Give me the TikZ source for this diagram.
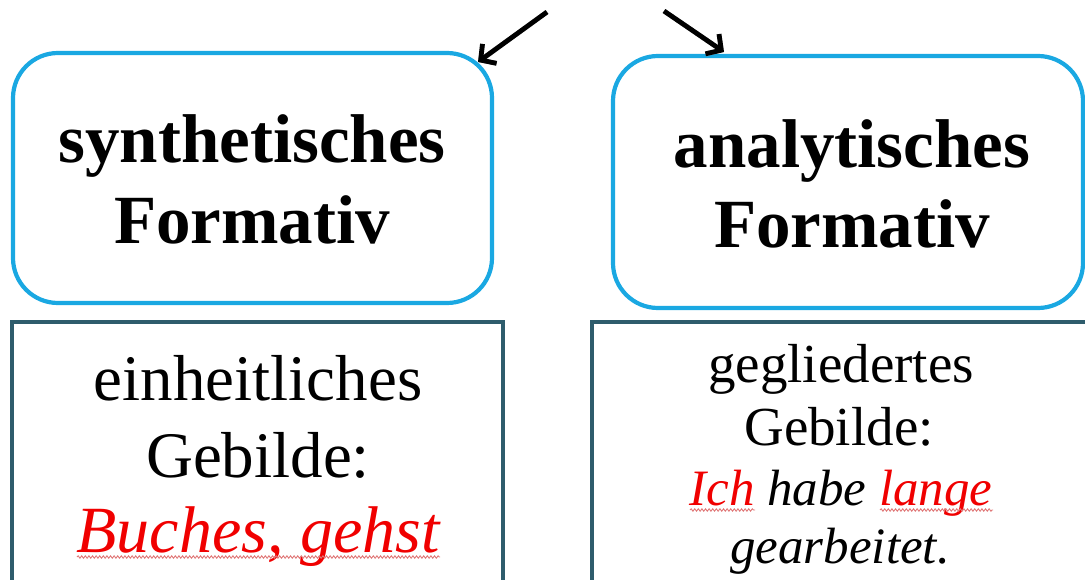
\documentclass[tikz,border=0pt]{standalone}
\usepackage{fontspec}
\setmainfont{Liberation Serif}
\usetikzlibrary{arrows.meta,decorations.pathmorphing}
\definecolor{boxblue}{HTML}{1AA8E2}
\definecolor{boxteal}{HTML}{2E5C6C}
\definecolor{txtred}{HTML}{F00000}
\definecolor{wavered}{HTML}{E07878}
\tikzset{
  headbox/.style={draw=boxblue, line width=4.2pt, rounded corners=45pt, inner sep=0pt},
  bodybox/.style={draw=boxteal, line width=3.6pt, inner sep=0pt},
  headtxt/.style={anchor=base, inner sep=0pt, font=\fontsize{69}{69}\selectfont\bfseries},
  bigtxt/.style={anchor=base, inner sep=0pt, font=\fontsize{65}{65}\selectfont},
  midtxt/.style={anchor=base, inner sep=0pt, font=\fontsize{55}{55}\selectfont},
  ittxt/.style={anchor=base, inner sep=0pt, font=\fontsize{51}{51}\selectfont\itshape},
  pointer/.style={draw=black, line width=4.8pt, -{Straight Barb[length=11pt,width=24pt]}},
  pshadow/.style={draw=black!30, line width=4.8pt, -{Straight Barb[length=11pt,width=24pt]}},
  spell/.style={draw=wavered, line width=0.9pt, decorate, decoration={snake, amplitude=1.2pt, segment length=3.6pt}}
}
\begin{document}
\begin{tikzpicture}[x=1pt,y=-1pt]
\useasboundingbox (0,0) rectangle (1085,580);
\clip (0,0) rectangle (1085,580);
% boxes
\node[headbox, minimum width=479pt, minimum height=250pt] (lhead) at (252.5,178) {};
\node[headbox, minimum width=470pt, minimum height=252pt] (rhead) at (848,182) {};
\node[bodybox, minimum width=491pt, minimum height=300pt] (lbody) at (257.5,472) {};
\node[bodybox, minimum width=520pt, minimum height=300pt] (rbody) at (852,472) {};
% heading texts
\node[headtxt] (l1) at (252,163) {synthetisches};
\node[headtxt] (l2) at (252,244) {Formativ};
\node[headtxt] (r1) at (852,168) {analytisches};
\node[headtxt] (r2) at (852,248) {Formativ};
% left body
\node[bigtxt] (lb1) at (258,400) {einheitliches};
\node[bigtxt] (lb2) at (258,477) {Gebilde:};
\node[bigtxt, font=\fontsize{66}{66}\selectfont\itshape, text=txtred] (lb3) at (258,552) {Buches, gehst};
% right body
\node[midtxt] (rb1) at (841,382) {gegliedertes};
\node[midtxt] (rb2) at (839,445) {Gebilde:};
\node[ittxt] (rb3) at (841,505) {\textcolor{txtred}{Ich} habe \textcolor{txtred}{lange}};
\node[ittxt] (rb4) at (840,563) {gearbeitet.};
% spell-check underlines
\coordinate (w1s) at (77,557); \coordinate (w1e) at (440,557);
\coordinate (w2s) at (690,510); \coordinate (w2e) at (755,510);
\coordinate (w3s) at (880,510); \coordinate (w3e) at (993,510);
\draw[spell] (w1s) -- (w1e);
\draw[spell] (w2s) -- (w2e);
\draw[spell] (w3s) -- (w3e);
% arrows
\coordinate (a1s) at (547,12); \coordinate (a1e) at (478,62);
\coordinate (a2s) at (664,11); \coordinate (a2e) at (724,52);
\draw[pshadow, shift={(1.2,1.8)}] (a1s) -- (a1e);
\draw[pshadow, shift={(1.2,1.8)}] (a2s) -- (a2e);
\draw[pointer] (a1s) -- (a1e);
\draw[pointer] (a2s) -- (a2e);
\end{tikzpicture}
\end{document}
